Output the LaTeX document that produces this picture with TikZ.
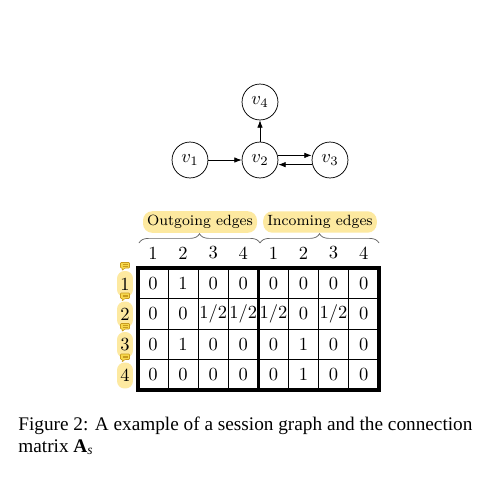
\documentclass[tikz,border=0pt]{standalone}
\usepackage{fontspec}
\newfontfamily\captionfont{Liberation Serif}
\usepackage{amsmath}
\usetikzlibrary{arrows.meta}
\usetikzlibrary{decorations.pathreplacing}

\definecolor{hilite}{HTML}{FDE9A0}
\definecolor{notefill}{HTML}{F7D84C}
\definecolor{noteline}{HTML}{C89A1E}

\tikzset{
  vertex/.style={circle, draw, minimum size=19.4pt, inner sep=0pt},
  edgetip/.style={-{Latex[length=4pt,width=3pt]}},
  grouplabel/.style={fill=hilite, rounded corners=5pt, inner sep=2.2pt, font=\footnotesize},
  rowlabel/.style={fill=hilite, rounded corners=4pt, minimum width=8.6pt, minimum height=14pt, inner sep=0pt},
  cellentry/.style={inner sep=0pt},
  captext/.style={anchor=base west, inner sep=0pt, font=\captionfont\fontsize{10.4pt}{12pt}\selectfont},
}

\begin{document}
\begin{tikzpicture}[x=0.54pt, y=-0.54pt]
  \fill [white] (0,0) rectangle (490,481);
  \useasboundingbox (0,0) rectangle (490,481);

  % session graph
  \node [vertex] (v1) at (190,160) {$v_1$};
  \node [vertex] (v2) at (260,160) {$v_2$};
  \node [vertex] (v3) at (330,160) {$v_3$};
  \node [vertex] (v4) at (260,102) {$v_4$};
  \draw [edgetip] (v1) -- (v2);
  \draw [edgetip] (v2) -- (v4);
  \draw [edgetip] ([yshift=2.5pt]v2.east) -- ([yshift=2.5pt]v3.west);
  \draw [edgetip] ([yshift=-2.5pt]v3.west) -- ([yshift=-2.5pt]v2.east);

  % group labels and braces
  \node [grouplabel] (outlab) at (200,222) {Outgoing edges};
  \node [grouplabel] (inlab) at (320,222) {Incoming edges};
  \coordinate (b0) at (139,243);
  \coordinate (b1) at (260,243);
  \coordinate (b2) at (379,243);
  \draw [decorate, decoration={brace, amplitude=5pt}, gray!80!black] (b0) -- (b1);
  \draw [decorate, decoration={brace, amplitude=5pt}, gray!80!black] (b1) -- (b2);

  % column numbers
  \foreach \c [count=\i from 0] in {1,2,3,4,1,2,3,4}
    \node (col\i) at (153+30.1*\i,253) {\c};

  % matrix entries
  \foreach \row [count=\r from 0] in {
      {0,1,0,0,0,0,0,0},
      {0,0,1/2,1/2,1/2,0,1/2,0},
      {0,1,0,0,0,1,0,0},
      {0,0,0,0,0,1,0,0}}
    \foreach \val [count=\i from 0] in \row
      \node [cellentry] (m\r\i) at (153+30.1*\i,283.25+30.5*\r) {$\val$};

  % grid
  \foreach \i in {1,2,3,5,6,7}
    \draw [line width=0.55pt] (138+30.1*\i,268) -- (138+30.1*\i,390);
  \foreach \r in {1,2,3}
    \draw [line width=0.55pt] (138,268+30.5*\r) -- (378.8,268+30.5*\r);
  \draw [line width=1.6pt] (258.4,268) -- (258.4,390);
  \draw [line width=2pt] (138,268) rectangle (378.8,390);

  % row labels with note marks
  \foreach \r in {0,1,2,3} {
    \node [rowlabel] (row\r) at (125,284+30.5*\r) {\the\numexpr\r+1\relax};
    \draw [fill=notefill, draw=noteline, line width=0.3pt, rounded corners=0.4pt]
      (120.5,262.5+30.5*\r) -- (129.5,262.5+30.5*\r) -- (129.5,268+30.5*\r)
      -- (125,268+30.5*\r) -- (122,270.5+30.5*\r) -- (122.5,268+30.5*\r)
      -- (120.5,268+30.5*\r) -- cycle;
    \draw [noteline, line width=0.3pt] (122.5,264.3+30.5*\r) -- (127.5,264.3+30.5*\r)
      (122.5,266.2+30.5*\r) -- (127.5,266.2+30.5*\r);
  }

  % caption
  \node [captext] (cap1) at (18,430)
    {Figure 2: A example of a session graph and the connection};
  \node [captext] (cap2) at (18,452)
    {matrix {\bfseries A}$_{\textit{s}}$};
\end{tikzpicture}
\end{document}
